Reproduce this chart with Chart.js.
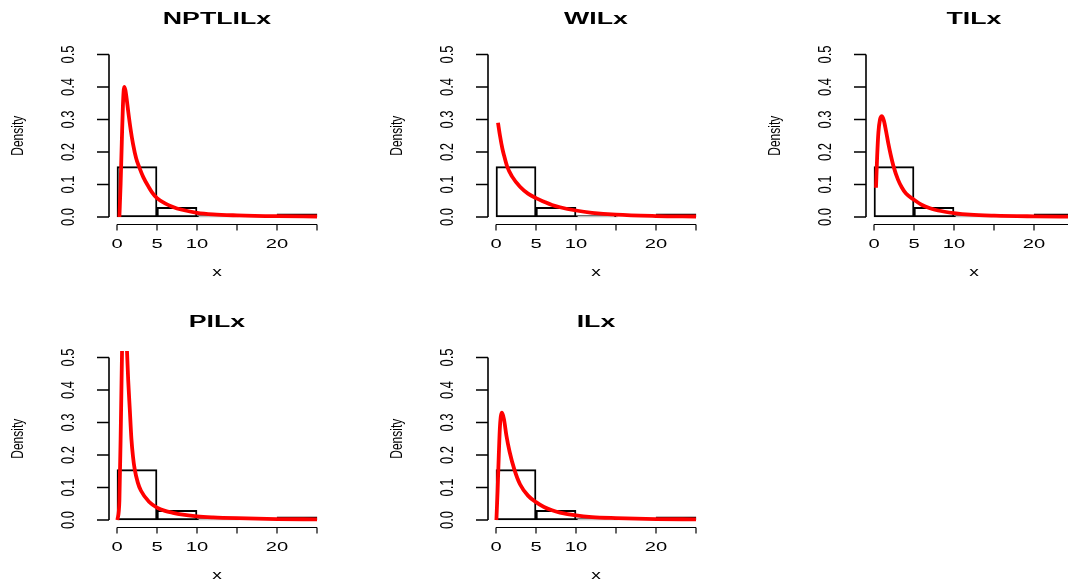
<!DOCTYPE html>
<html>
<head>
<meta charset="utf-8">
<script src="https://cdn.jsdelivr.net/npm/chart.js@4.4.1/dist/chart.umd.min.js"></script>
<style>
  body { margin: 0; width: 1068px; height: 586px; overflow: hidden; position: relative; background: #fff; }
  canvas { position: absolute; }
</style>
</head>
<body>
<script>
// histogram (same sample in every panel)
const binEdges = [0, 5, 10, 15, 20, 25];
const histDensity = [0.155, 0.030, 0.004, 0.0006, 0.010];

// axis ticks
const xTicks = [0, 5, 10, 15, 20, 25];
const xTickLabels = ['0', '5', '10', '', '20', ''];
const yTicks = [0, 0.1, 0.2, 0.3, 0.4, 0.5];
const yTickLabels = ['0.0', '0.1', '0.2', '0.3', '0.4', '0.5'];

// fitted densities
const nptlilX = [0.3, 0.45, 0.6, 0.75, 0.9, 1.05, 1.2, 1.4, 1.7, 2.0, 2.4, 2.8, 3.3, 3.9, 4.4, 5, 6, 7, 8, 10, 12, 15, 20, 25];
const nptlilY = [0, 0.10, 0.23, 0.35, 0.40, 0.39, 0.365, 0.325, 0.27, 0.225, 0.18, 0.152, 0.122, 0.095, 0.075, 0.058, 0.042, 0.031, 0.023, 0.013, 0.008, 0.005, 0.0025, 0.0015];

const wilX = [0.25, 0.5, 0.8, 1.0, 1.4, 2, 3, 4, 5, 6, 7, 8, 10, 12, 15, 20, 25];
const wilY = [0.29, 0.25, 0.21, 0.19, 0.155, 0.125, 0.093, 0.072, 0.058, 0.047, 0.037, 0.03, 0.02, 0.013, 0.007, 0.003, 0.0015];

const tilX = [0.25, 0.4, 0.55, 0.75, 1.0, 1.25, 1.5, 1.8, 2.1, 2.45, 3, 3.5, 4, 5, 6, 7, 8, 10, 12, 15, 20, 25];
const tilY = [0.09, 0.19, 0.26, 0.30, 0.31, 0.295, 0.265, 0.225, 0.19, 0.155, 0.115, 0.09, 0.072, 0.053, 0.037, 0.027, 0.02, 0.012, 0.007, 0.004, 0.002, 0.001];

const pilX = [0.05, 0.3, 0.5, 0.65, 0.8, 0.95, 1.1, 1.25, 1.4, 1.6, 1.8, 2.0, 2.2, 2.6, 3, 4, 5, 6, 7, 8, 10, 12, 15, 20, 25];
const pilY = [0, 0.06, 0.32, 0.55, 0.72, 0.74, 0.64, 0.52, 0.43, 0.34, 0.25, 0.195, 0.158, 0.115, 0.09, 0.056, 0.038, 0.028, 0.022, 0.017, 0.011, 0.008, 0.0055, 0.003, 0.002];

const ilX = [0.05, 0.2, 0.35, 0.5, 0.75, 1.0, 1.3, 1.7, 2.3, 3, 4, 5, 6, 7, 8, 10, 12, 15, 20, 25];
const ilY = [0, 0.09, 0.2, 0.29, 0.33, 0.31, 0.26, 0.21, 0.155, 0.11, 0.075, 0.055, 0.04, 0.03, 0.023, 0.014, 0.009, 0.006, 0.003, 0.002];

const panels = [
  { title: 'NPTLILx', xs: nptlilX, ys: nptlilY, col: 0, row: 0 },
  { title: 'WILx', xs: wilX, ys: wilY, col: 1, row: 0 },
  { title: 'TILx', xs: tilX, ys: tilY, col: 2, row: 0 },
  { title: 'PILx', xs: pilX, ys: pilY, col: 0, row: 1 },
  { title: 'ILx', xs: ilX, ys: ilY, col: 1, row: 1 },
];

// the picture is stretched sideways, so the text is too
function rText(ctx, txt, x, y, font, sx, rotate) {
  ctx.save();
  ctx.translate(x, y);
  ctx.scale(sx, 1);
  if (rotate) ctx.rotate(-Math.PI / 2);
  ctx.font = font;
  ctx.textAlign = 'center';
  ctx.textBaseline = 'middle';
  ctx.fillText(txt, 0, 0);
  ctx.restore();
}

const rAxes = {
  id: 'rAxes',
  afterDraw(chart, args, opts) {
    const ctx = chart.ctx;
    const xs = chart.scales.x, ys = chart.scales.y, area = chart.chartArea;
    ctx.save();
    ctx.strokeStyle = '#000';
    ctx.fillStyle = '#000';
    ctx.lineWidth = 1.2;

    // x axis
    const yAx = area.bottom + 1;
    ctx.beginPath();
    ctx.moveTo(xs.getPixelForValue(xTicks[0]), yAx);
    ctx.lineTo(xs.getPixelForValue(xTicks[xTicks.length - 1]), yAx);
    xTicks.forEach(t => {
      const px = xs.getPixelForValue(t);
      ctx.moveTo(px, yAx);
      ctx.lineTo(px, yAx + 6);
    });
    ctx.stroke();
    xTicks.forEach((t, i) => {
      rText(ctx, xTickLabels[i], xs.getPixelForValue(t), yAx + 20, '13px "Liberation Sans", Arial', 1.55, false);
    });

    // y axis
    const xAx = area.left;
    ctx.beginPath();
    ctx.lineWidth = 1.6;
    ctx.moveTo(xAx, ys.getPixelForValue(yTicks[0]));
    ctx.lineTo(xAx, ys.getPixelForValue(yTicks[yTicks.length - 1]));
    yTicks.forEach(t => {
      const py = ys.getPixelForValue(t);
      ctx.moveTo(xAx, py);
      ctx.lineTo(xAx - 12, py);
    });
    ctx.stroke();
    yTicks.forEach((t, i) => {
      rText(ctx, yTickLabels[i], xAx - 40, ys.getPixelForValue(t), '13px "Liberation Sans", Arial', 1.35, true);
    });

    const midX = (area.left + area.right) / 2;
    const midY = (area.top + area.bottom) / 2;
    rText(ctx, 'Density', xAx - 91, midY, '12px "Liberation Sans", Arial', 1.4, true);
    rText(ctx, 'x', midX, yAx + 48, '12px "Liberation Sans", Arial', 1.6, false);
    rText(ctx, opts.title, midX, area.top - 28, 'bold 16px "Liberation Sans", Arial', 1.67, false);
    ctx.restore();
  }
};

const binMid = histDensity.map((d, i) => ({ x: (binEdges[i] + binEdges[i + 1]) / 2, y: d }));

panels.forEach(p => {
  const cv = document.createElement('canvas');
  cv.width = 378;
  cv.height = 303;
  cv.style.left = (p.col * 378.5) + 'px';
  cv.style.top = (p.row * 302.7) + 'px';
  document.body.appendChild(cv);

  new Chart(cv, {
    type: 'line',
    data: {
      datasets: [
        {
          type: 'line',
          data: p.xs.map((x, i) => ({ x: x, y: p.ys[i] })),
          borderColor: '#ff0000',
          borderWidth: 3.8,
          pointRadius: 0,
          fill: false,
          cubicInterpolationMode: 'monotone',
          order: 0,
        },
        {
          type: 'bar',
          data: binMid,
          backgroundColor: 'rgba(0,0,0,0)',
          borderColor: '#000',
          borderWidth: 1.3,
          borderSkipped: false,
          barPercentage: 1,
          categoryPercentage: 1,
          order: 1,
        },
      ],
    },
    options: {
      responsive: false,
      animation: false,
      events: [],
      layout: { padding: { left: 109, right: 53, top: 48, bottom: 79.5 } },
      scales: {
        x: {
          type: 'linear', min: -1, max: 26, offset: false, display: false,
          afterBuildTicks: s => { s.ticks = xTicks.map(v => ({ value: v })); },
        },
        y: { type: 'linear', min: -0.02, max: 0.52, display: false },
      },
      plugins: {
        legend: { display: false },
        tooltip: { enabled: false },
        rAxes: { title: p.title },
      },
    },
    plugins: [rAxes],
  });
});
</script>
</body>
</html>
